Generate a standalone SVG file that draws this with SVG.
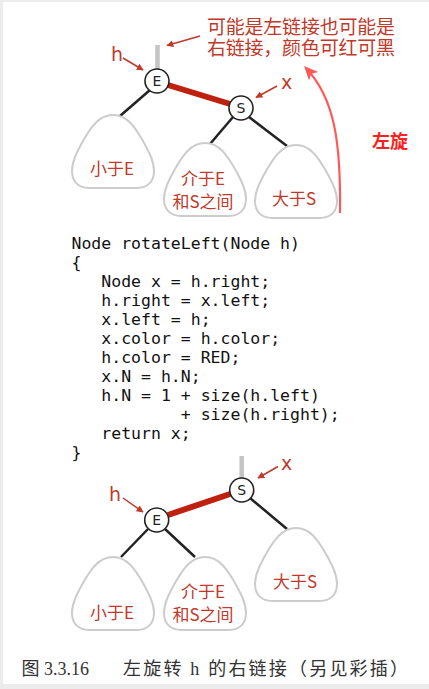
<svg xmlns="http://www.w3.org/2000/svg" width="429" height="689" viewBox="0 0 429 689">
<defs>
<style>
.blob{fill:#fff;stroke:#cccccc;stroke-width:2}
.edge{stroke:#222;stroke-width:2.5;fill:none}
.red{stroke:#c0200e;stroke-width:6;fill:none}
.stub{stroke:#c4c4c4;stroke-width:4.5}
.node{fill:#fff;stroke:#222;stroke-width:1.6}
.nl{font-family:"DejaVu Sans",sans-serif;font-size:14px;fill:#222;text-anchor:middle}
.lbl{font-family:"Noto Sans CJK SC","DejaVu Sans",sans-serif;font-size:17px;fill:#c0392b;text-anchor:middle}
.ann{font-family:"DejaVu Sans","Noto Sans CJK SC",sans-serif;font-size:19px;fill:#c0392b}
.ptr{stroke:#c0392b;stroke-width:1.5;fill:none}
.code{font-family:"DejaVu Sans Mono","Liberation Mono",monospace;font-size:16.5px;fill:#111;white-space:pre}
</style>
<path id="blob" d="M 0 0 C -14 0 -22 12 -30 26 C -36 37 -41 46 -41 56 C -41 67 -34 73 -24 73 L 24 73 C 34 73 41 67 41 56 C 41 46 36 37 30 26 C 22 12 14 0 0 0 Z"/>
<marker id="ah" viewBox="0 0 10 10" refX="9" refY="5" markerWidth="7" markerHeight="7" orient="auto" markerUnits="userSpaceOnUse">
<path d="M0 0 L10 5 L0 10 Z" fill="#c0392b"/>
</marker>
<marker id="ah2" viewBox="0 0 10 10" refX="8" refY="5" markerWidth="14" markerHeight="14" orient="auto" markerUnits="userSpaceOnUse">
<path d="M0 0.5 L10 5 L0 9.5 L2.5 5 Z" fill="#ff5a5a"/>
</marker>
</defs>
<rect x="0" y="0" width="429" height="689" fill="#fff"/>
<rect x="0" y="0" width="3" height="689" fill="#ececec"/>
<rect x="0" y="0" width="429" height="2" fill="#ececec"/>
<rect x="0" y="684" width="429" height="5" fill="#ececec"/>

<!-- top diagram -->
<g id="connectors-top">
<line class="stub" x1="157.5" y1="45" x2="157.5" y2="69"/>
<line class="edge" x1="150" y1="90" x2="120" y2="116"/>
<line class="edge" x1="233" y1="117" x2="210" y2="144"/>
<line class="edge" x1="249" y1="117" x2="287" y2="146"/>
<line class="red" x1="168" y1="85" x2="230" y2="104"/>
<line class="ptr" x1="200" y1="36" x2="167" y2="45.5" marker-end="url(#ah)"/>
<line class="ptr" x1="123" y1="58" x2="143" y2="70" marker-end="url(#ah)"/>
<line class="ptr" x1="277" y1="86" x2="256" y2="97.5" marker-end="url(#ah)"/>
<path d="M 340 213 C 341 140 334 98 306 68" fill="none" stroke="#ff5a5a" stroke-width="2.2" marker-end="url(#ah2)"/>
</g>
<g id="blob-lt-top"><use href="#blob" class="blob" x="113" y="115"/><text class="lbl" x="112" y="175">小于E</text></g>
<g id="blob-mid-top"><use href="#blob" class="blob" x="205" y="143"/><text class="lbl" x="203" y="185" font-size="14.5">介于E</text><text class="lbl" x="203" y="208" font-size="14.5">和S之间</text></g>
<g id="blob-rt-top"><use href="#blob" class="blob" x="296" y="145"/><text class="lbl" x="294" y="205" font-size="17.5">大于S</text></g>
<g id="node-E-top"><circle class="node" cx="157" cy="81" r="12"/><text class="nl" x="157" y="86">E</text></g>
<g id="node-S-top"><circle class="node" cx="241" cy="108" r="12"/><text class="nl" x="241" y="113">S</text></g>
<g id="labels-top">
<text class="ann" x="111" y="61">h</text>
<text class="ann" x="281" y="89">x</text>
<text class="ann" x="207" y="34" font-size="18.5" textLength="188" font-family="Noto Sans CJK SC,sans-serif">可能是左链接也可能是</text>
<text class="ann" x="207" y="55" font-size="18.5" textLength="188" font-family="Noto Sans CJK SC,sans-serif">右链接，颜色可红可黑</text>
<text x="372" y="148" font-family="Noto Sans CJK SC,sans-serif" font-size="18" font-weight="bold" fill="#ff2020">左旋</text>
</g>

<!-- code -->
<g id="code">
<text class="code" x="71.5" y="249">Node rotateLeft(Node h)</text>
<text class="code" x="71.5" y="268">{</text>
<text class="code" x="71.5" y="287">   Node x = h.right;</text>
<text class="code" x="71.5" y="306">   h.right = x.left;</text>
<text class="code" x="71.5" y="325">   x.left = h;</text>
<text class="code" x="71.5" y="344">   x.color = h.color;</text>
<text class="code" x="71.5" y="363">   h.color = RED;</text>
<text class="code" x="71.5" y="382">   x.N = h.N;</text>
<text class="code" x="71.5" y="401">   h.N = 1 + size(h.left)</text>
<text class="code" x="71.5" y="420">           + size(h.right);</text>
<text class="code" x="71.5" y="439">   return x;</text>
<text class="code" x="71.5" y="458">}</text>
</g>

<!-- bottom diagram -->
<g id="connectors-bottom">
<line class="stub" x1="241.7" y1="456" x2="241.7" y2="478"/>
<line class="edge" x1="148" y1="529" x2="121" y2="557"/>
<line class="edge" x1="165" y1="529" x2="195" y2="557"/>
<line class="edge" x1="250" y1="498" x2="287" y2="529"/>
<line class="red" x1="168" y1="515" x2="230" y2="494"/>
<line class="ptr" x1="278" y1="466.5" x2="258" y2="478" marker-end="url(#ah)"/>
<line class="ptr" x1="123" y1="498" x2="143" y2="512" marker-end="url(#ah)"/>
</g>
<g id="blob-lt-bot"><use href="#blob" class="blob" x="113" y="557"/><text class="lbl" x="112" y="619">小于E</text></g>
<g id="blob-mid-bot"><use href="#blob" class="blob" x="205" y="557"/><text class="lbl" x="203" y="598" font-size="14.5">介于E</text><text class="lbl" x="203" y="621" font-size="14.5">和S之间</text></g>
<g id="blob-rt-bot"><use href="#blob" class="blob" x="296" y="528"/><text class="lbl" x="295" y="588" font-size="17.5">大于S</text></g>
<g id="node-S-bot"><circle class="node" cx="241.7" cy="490" r="12"/><text class="nl" x="241.7" y="495">S</text></g>
<g id="node-E-bot"><circle class="node" cx="156.7" cy="520" r="12"/><text class="nl" x="156.7" y="525">E</text></g>
<g id="labels-bottom">
<text class="ann" x="109" y="501">h</text>
<text class="ann" x="281" y="470">x</text>
</g>

<g id="caption" font-family="Liberation Serif,Noto Sans CJK SC,serif" font-size="18" fill="#333">
<text x="21.5" y="675">图 3.3.16</text>
<text x="123" y="675" textLength="285">左旋转 h 的右链接（另见彩插）</text>
</g>
</svg>
